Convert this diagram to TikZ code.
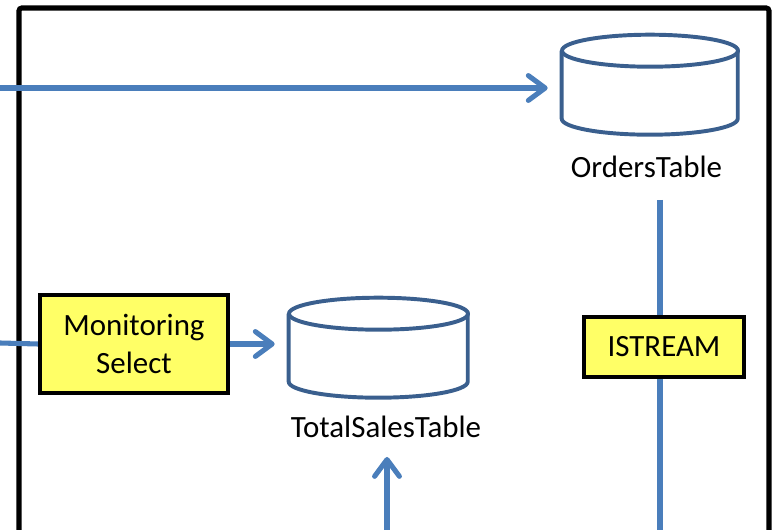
\documentclass[tikz,border=0pt]{standalone}
\usepackage{fontspec}
\setmainfont{Carlito}
\usetikzlibrary{arrows.meta}
\definecolor{flowblue}{HTML}{4A7EBB}
\definecolor{tabblue}{HTML}{3A5F8E}
\definecolor{opyellow}{HTML}{FFFF66}
\tikzset{
  flow/.style={draw=flowblue,line width=3.6pt},
  flowarr/.style={flow,-{Straight Barb[length=0.42cm,width=0.62cm,round]}},
  tablecyl/.style={minimum height=2.5cm,inner sep=0pt},
  tabline/.style={draw=tabblue,line width=2.8pt,line join=round},
  opbox/.style={draw=black,line width=3pt,fill=opyellow,align=center,inner sep=0pt}
}
\begin{document}
\begin{tikzpicture}[x=0.025cm,y=-0.025cm]
      \fontsize{22}{27}\selectfont
      \useasboundingbox (0,0) rectangle (779,530);
      % outer frame
      \draw[line width=3.6pt,rounded corners=2pt] (19,545) -- (19,8) -- (769,8) -- (769,545);
      % tables
      \node[tablecyl,minimum width=4.4cm] (orders) at (650,85) {};
      \node[anchor=base] (ordlbl) at (646.5,178) {OrdersTable};
      \node[tablecyl,minimum width=4.475cm] (total) at (378.5,348) {};
      \node[anchor=base] (totlbl) at (386,438) {TotalSalesTable};
      \foreach \t/\r in {orders/2.2,total/2.2375} {
        \draw[tabline] (\t.north) ++(0,16) ellipse [x radius=\r cm,y radius=0.4cm];
        \draw[tabline] (\t.north west) ++(0,16) -- ++(0,68)
          arc [start angle=180,end angle=360,x radius=\r cm,y radius=0.4cm] -- ++(0,-68);
      }
      % operators
      \node[opbox,minimum width=4.7cm,minimum height=2.45cm] (monsel) at (134,344) {Monitoring\\Select};
      \node[opbox,minimum width=4cm,minimum height=1.5cm] (istream) at (664,347) {ISTREAM};
      % connectors
      \coordinate (in1) at (0,88);
      \coordinate (in2) at (0,343);
      \coordinate (istop) at (660,200);
      \coordinate (isbot) at (660,540);
      \coordinate (upbot) at (387,540);
      \coordinate (uptop) at (387,457);
      \draw[flowarr,shorten >=0.35cm] (in1) -- (in1 -| orders.west);
      \draw[flow] (in2) -- (monsel.west);
      \draw[flowarr,shorten >=0.35cm] (monsel.east) -- (monsel.east -| total.west);
      \draw[flow] (istop) -- (istop |- istream.north);
      \draw[flow] (isbot |- istream.south) -- (isbot);
      \draw[flowarr] (upbot) -- (uptop);
    \end{tikzpicture}
\end{document}
